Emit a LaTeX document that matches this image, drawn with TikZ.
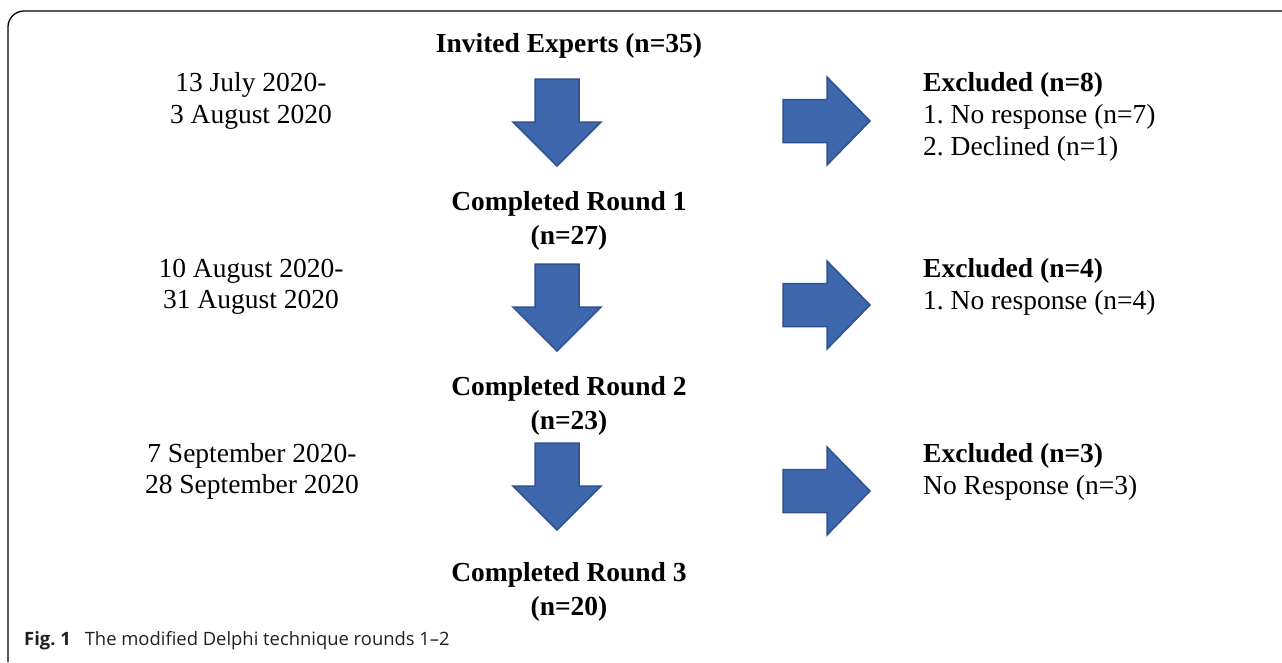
\documentclass[tikz,border=0pt]{standalone}
\usepackage{fontspec}
\setmainfont{Liberation Serif}
\newfontfamily\capfont[Ligatures=TeX]{Open Sans}
\definecolor{arrowfill}{RGB}{63,103,174}
\definecolor{arrowline}{RGB}{47,82,143}
\definecolor{capgray}{RGB}{35,31,32}
\frenchspacing
\begin{document}
\begin{tikzpicture}[x=1pt,y=-1pt,
  txt/.style={inner sep=0pt,font=\fontsize{27.5}{31.5}\selectfont,align=center},
  bold/.style={txt,font=\fontsize{27.5}{34}\selectfont\bfseries},
  excl/.style={inner sep=0pt,font=\fontsize{27.5}{32}\selectfont,align=left,anchor=west},
  blockarrow/.style={fill=arrowfill,draw=arrowline,line width=1.5pt,line join=miter},
  downarrow/.pic={\path[blockarrow] (-22,-87) -- (22,-87) -- (22,-44) -- (44,-44) -- (0,0) -- (-44,-44) -- (-22,-44) -- cycle;},
  rightarrow/.pic={\path[blockarrow] (-87,-21.5) -- (-43,-21.5) -- (-43,-44) -- (0,0) -- (-43,44) -- (-43,21.5) -- (-87,21.5) -- cycle;}
]
\useasboundingbox (0,0) rectangle (1282,662);
% open frame
\draw[line width=1.3pt,rounded corners=16pt] (8,662) -- (8,11) -- (1282,11);

% centre column
\node[bold] (inv) at (569,46) {Invited Experts (n=35)};
\node[bold] (r1) at (569,221) {Completed Round 1\\(n=27)};
\node[bold] (r2) at (569,406) {Completed Round 2\\(n=23)};
\node[bold] (r3) at (569,592) {Completed Round 3\\(n=20)};

% dates
\node[txt] (d1) at (251,101) {13 July 2020-\\3 August 2020};
\node[txt] (d2) at (251,287) {10 August 2020-\\31 August 2020};
\node[txt] (d3) at (252,471.5) {7 September 2020-\\28 September 2020};

% excluded
\node[excl] (e1) at (923,117) {\textbf{Excluded (n=8)}\\1. No response (n=7)\\2. Declined (n=1)};
\node[excl] (e2) at (923,286.5) {\textbf{Excluded (n=4)}\\1. No response (n=4)};
\node[excl] (e3) at (923,472) {\textbf{Excluded (n=3)}\\No Response (n=3)};

% block arrows
\pic at (557,166) {downarrow};
\pic at (557,351) {downarrow};
\pic at (557,530) {downarrow};
\pic at (870,121) {rightarrow};
\pic at (870,305) {rightarrow};
\pic at (870,491) {rightarrow};

% caption
\node[inner sep=0pt,anchor=west,font=\capfont\fontsize{18.4}{20}\selectfont,text=capgray] (cap) at (24,641) {\textbf{Fig. 1}\hspace{0.5em} The modified Delphi technique rounds 1–2};
\end{tikzpicture}
\end{document}
